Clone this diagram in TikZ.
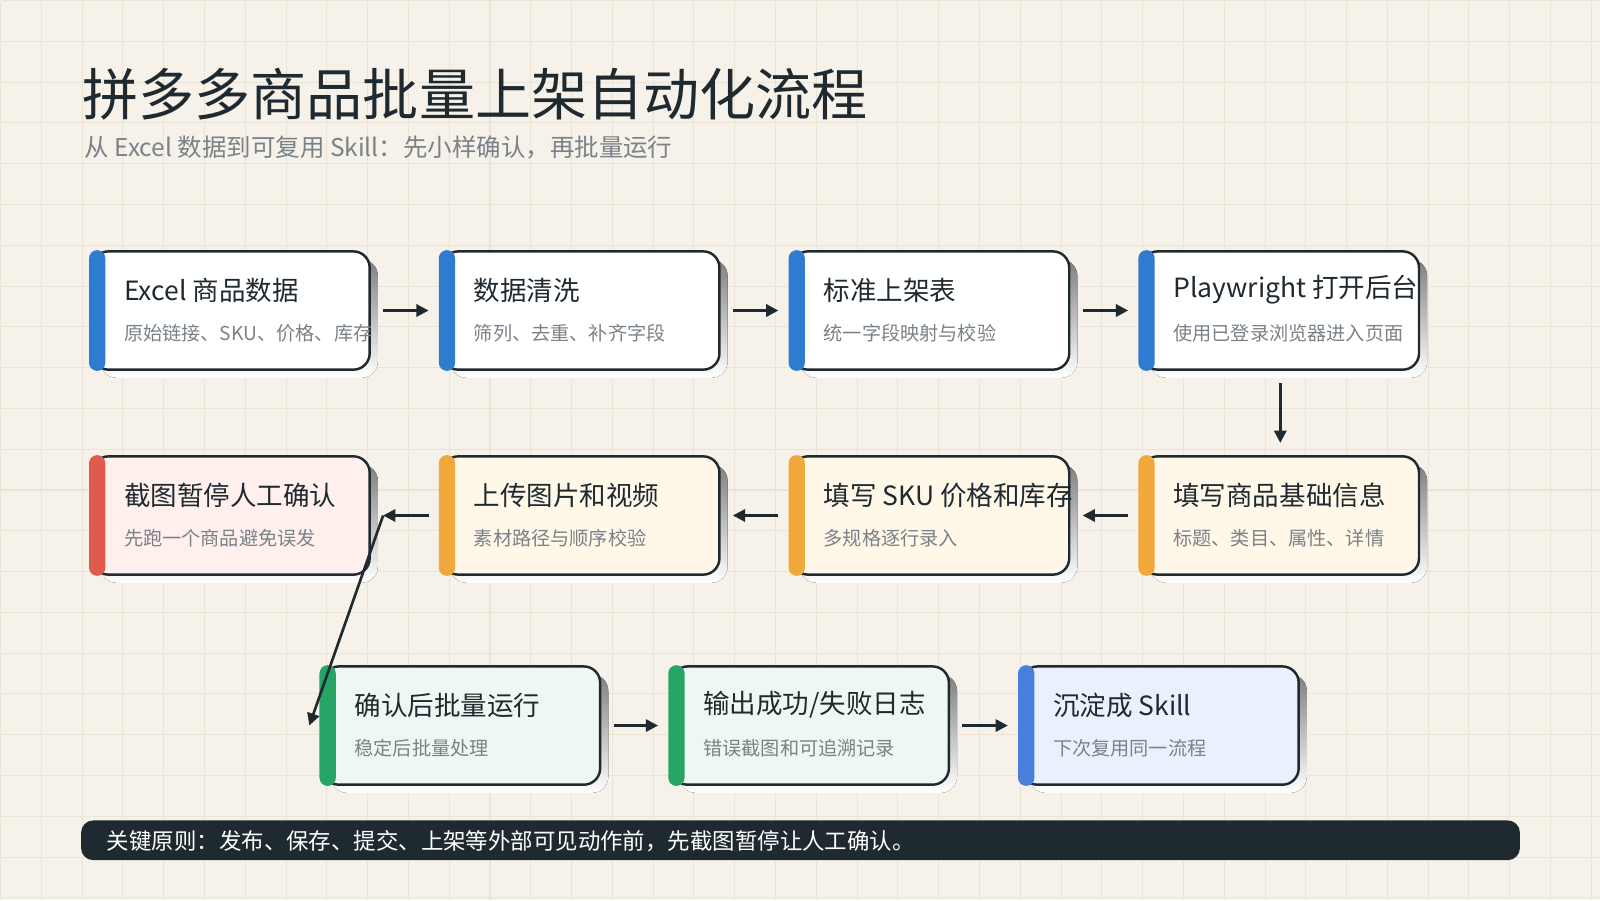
\documentclass[tikz,border=0pt]{standalone}
\usepackage{fontspec}
\setmainfont{Noto Sans CJK SC}
\usetikzlibrary{positioning,arrows.meta,calc}
\definecolor{paper}{HTML}{F6F2EA}
\definecolor{gridc}{HTML}{EAE4D6}
\definecolor{ink}{HTML}{1F2A30}
\definecolor{shade}{HTML}{E0D9CB}
\definecolor{subc}{HTML}{7A8288}
\definecolor{barblue}{HTML}{2F7BD0}
\definecolor{barorange}{HTML}{F0A83A}
\definecolor{barred}{HTML}{E05A4E}
\definecolor{bargreen}{HTML}{27A567}
\definecolor{barsky}{HTML}{4A7EDC}
\definecolor{fillorange}{HTML}{FFF7E8}
\definecolor{fillred}{HTML}{FFF0EE}
\definecolor{fillgreen}{HTML}{EEF8F2}
\definecolor{fillsky}{HTML}{E9F1FF}
\tikzset{
  card/.style={draw=ink,line width=1.2pt,rounded corners=8pt,minimum width=136pt,minimum height=58pt,inner sep=0pt},
  cardtitle/.style={anchor=west,font=\fontsize{13pt}{15pt}\selectfont,text=ink,inner sep=0pt},
  cardsub/.style={anchor=west,font=\fontsize{9.4pt}{11pt}\selectfont,text=subc,inner sep=0pt},
  flow/.style={-{Triangle[length=6pt,width=6pt]},draw=ink,line width=1.3pt}
}
% #1 name, #2 centre, #3 bar colour, #4 fill, #5 title, #6 subtitle
\newcommand{\card}[6]{
  \fill[shade,rounded corners=8pt] ($(#2)+(-128,-50)$) rectangle ($(#2)+(144,66)$);
  \node[card,fill=#4] (#1) at (#2) {};
  \fill[#3,rounded corners=4pt] ($(#1.south west)+(-1pt,0)$) rectangle ($(#1.north west)+(7pt,0)$);
  \node[cardtitle] at ($(#1.west)+(16pt,10pt)$) {#5};
  \node[cardsub] at ($(#1.west)+(16pt,-11pt)$) {#6};
}
\begin{document}
\begin{tikzpicture}[x=0.5pt,y=-0.5pt]
\fill[paper] (0,0) rectangle (1568,882);
\foreach \gx in {0,40,...,1560} \draw[gridc,line width=0.5pt] (\gx,0) -- (\gx,882);
\foreach \gy in {0,40,...,880} \draw[gridc,line width=0.5pt] (0,\gy) -- (1568,\gy);
\useasboundingbox (0,0) rectangle (1568,882);
% header
\node[anchor=base west,inner sep=0pt,text=ink,font=\fontsize{27.5pt}{31pt}\selectfont] (title) at (80,113) {拼多多商品批量上架自动化流程};
\node[anchor=base west,inner sep=0pt,text=subc,font=\fontsize{12pt}{14pt}\selectfont] (subtitle) at (82,153) {从 Excel 数据到可复用 Skill：先小样确认，再批量运行};
% row 1
\card{excel}{226,304}{barblue}{white}{Excel 商品数据}{原始链接、SKU、价格、库存}
\card{clean}{569,304}{barblue}{white}{数据清洗}{筛列、去重、补齐字段}
\card{sheet}{912,304}{barblue}{white}{标准上架表}{统一字段映射与校验}
\card{open}{1255,304}{barblue}{white}{Playwright 打开后台}{使用已登录浏览器进入页面}
% row 2
\card{shot}{226,505}{barred}{fillred}{截图暂停人工确认}{先跑一个商品避免误发}
\card{upload}{569,505}{barorange}{fillorange}{上传图片和视频}{素材路径与顺序校验}
\card{sku}{912,505}{barorange}{fillorange}{填写 SKU 价格和库存}{多规格逐行录入}
\card{base}{1255,505}{barorange}{fillorange}{填写商品基础信息}{标题、类目、属性、详情}
% row 3
\card{run}{452,711}{bargreen}{fillgreen}{确认后批量运行}{稳定后批量处理}
\card{log}{794,711}{bargreen}{fillgreen}{输出成功/失败日志}{错误截图和可追溯记录}
\card{skill}{1137,711}{barsky}{fillsky}{沉淀成 Skill}{下次复用同一流程}
% connectors
\draw[flow] ([xshift=6pt]excel.east) -- ([xshift=-6pt]clean.west);
\draw[flow] ([xshift=6pt]clean.east) -- ([xshift=-6pt]sheet.west);
\draw[flow] ([xshift=6pt]sheet.east) -- ([xshift=-6pt]open.west);
\draw[flow] ([yshift=-6pt]open.south) -- ([yshift=6pt]base.north);
\draw[flow] ([xshift=-6pt]base.west) -- ([xshift=6pt]sku.east);
\draw[flow] ([xshift=-6pt]sku.west) -- ([xshift=6pt]upload.east);
\draw[flow] ([xshift=-6pt]upload.west) -- ([xshift=6pt]shot.east);
\draw[flow] ([xshift=6pt]shot.east) -- ([xshift=-6pt]run.west);
\draw[flow] ([xshift=6pt]run.east) -- ([xshift=-6pt]log.west);
\draw[flow] ([xshift=6pt]log.east) -- ([xshift=-6pt]skill.west);
% footer
\fill[ink,rounded corners=6pt] (79,804) rectangle (1490,843);
\node[anchor=west,inner sep=0pt,text=white,font=\fontsize{11pt}{13pt}\selectfont] (rule) at (104,824) {关键原则：发布、保存、提交、上架等外部可见动作前，先截图暂停让人工确认。};
\end{tikzpicture}
\end{document}
